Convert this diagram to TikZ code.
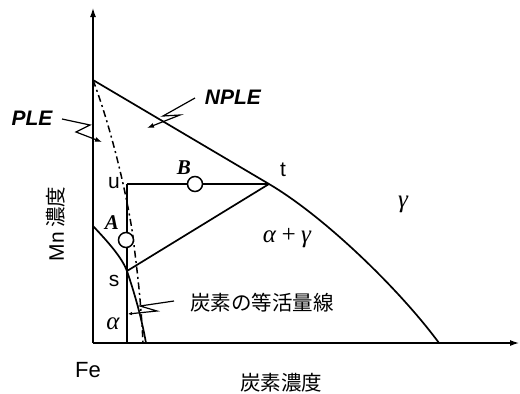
\documentclass[tikz,border=0pt]{standalone}
\usepackage{fontspec}
\usetikzlibrary{arrows.meta}
\newfontfamily\ars{Liberation Sans}
\newfontfamily\tms{Liberation Serif}
\newfontfamily\cjk{Noto Sans CJK JP}
\tikzset{
  curve/.style={line width=1.7pt, line join=round},
  axis/.style={line width=1.2pt, -{Latex[length=9pt,width=6pt]}},
  leader/.style={line width=1.2pt, -{Latex[length=7pt,width=5pt]}},
  dd/.style={line width=1.5pt, dash pattern=on 7pt off 3.5pt on 2pt off 3.5pt},
  pt/.style={circle, draw, fill=white, line width=1.5pt, minimum size=15pt, inner sep=0pt},
  lab/.style={inner sep=0pt, font=\ars\fontsize{21}{24}\selectfont},
  glab/.style={inner sep=0pt, font=\tms\itshape\fontsize{25}{28}\selectfont},
  blab/.style={inner sep=0pt, font=\tms\bfseries\itshape\fontsize{21}{24}\selectfont},
  plab/.style={inner sep=0pt, font=\ars\bfseries\itshape\fontsize{21}{24}\selectfont},
  jlab/.style={inner sep=0pt, font=\cjk\fontsize{20.5}{24}\selectfont},
}
\begin{document}
\begin{tikzpicture}[x=1pt,y=-1pt]
\useasboundingbox (0,0) rectangle (520,394);
% axes
\coordinate (O) at (93,343);
\coordinate (ytop) at (93,8);
\coordinate (xend) at (519,343);
\draw[axis] (O) -- (ytop);
\draw[axis] (O) -- (xend);
% key points
\coordinate (top) at (93,80);
\coordinate (t) at (269,184);
\coordinate (u) at (127,184);
\coordinate (s) at (127,271);
\coordinate (ubot) at (127,343);
\coordinate (gend) at (439,343);
\coordinate (aleft) at (93,226);
\coordinate (abot) at (146,343);
\coordinate (ddbot) at (143,343);
% boundaries
\draw[curve] (top) -- (t) .. controls (325,217) and (400,290) .. (gend);
\draw[curve] (aleft) .. controls (110,244) and (122,258) .. (s) .. controls (134,292) and (141,315) .. (abot);
\draw[curve] (u) -- (t);
\draw[curve] (s) -- (t);
\draw[curve] (u) -- (ubot);
% dash-dot PLE curve
\draw[dd] (top) .. controls (112,130) and (128,200) .. (133,237) .. controls (137,270) and (141,300) .. (ddbot);
% points
\node[pt] (B) at (195,184) {};
\node[pt] (A) at (126,240) {};
% labels
\node[blab] (Bl) at (184,168) {B};
\node[blab] (Al) at (112,223) {A};
\node[lab] (ul) at (114,183) {u};
\node[lab] (sl) at (114,281) {s};
\node[lab] (tl) at (283,170) {t};
\node[glab] (al) at (113,324) {α};
\node[glab] (agl) at (287,238) {α\,+\,γ};
\node[glab] (gl) at (403,204) {γ};
\node[lab, font=\ars\fontsize{22}{24}\selectfont] (Fe) at (88,370) {Fe};
\node[jlab] (xl) at (281,383) {炭素濃度};
\node[inner sep=0pt, rotate=90] (yl) at (56,224) {{\ars\fontsize{21}{24}\selectfont Mn}\hspace{4pt}{\cjk\fontsize{20.5}{24}\selectfont 濃度}};
\node[jlab] (iso) at (262,303) {炭素の等活量線};
\node[plab] (PLE) at (32,118) {PLE};
\node[plab] (NPLE) at (233,97) {NPLE};
% leaders
\coordinate (p1) at (62,119);
\coordinate (p2) at (90,125);
\coordinate (p3) at (76,132);
\coordinate (p4) at (102,142);
\draw[leader] (p1) -- (p2) -- (p3) -- (p4);
\coordinate (n1) at (195,98);
\coordinate (n2) at (163,116);
\coordinate (n3) at (180,115);
\coordinate (n4) at (147,128);
\draw[leader] (n1) -- (n2) -- (n3) -- (n4);
\coordinate (c1) at (174,301);
\coordinate (c2) at (140,306);
\coordinate (c3) at (157,311);
\coordinate (c4) at (128,314);
\draw[leader, -{Latex[length=4pt,width=3.5pt]}] (c1) -- (c2) -- (c3) -- (c4);
\end{tikzpicture}
\end{document}
